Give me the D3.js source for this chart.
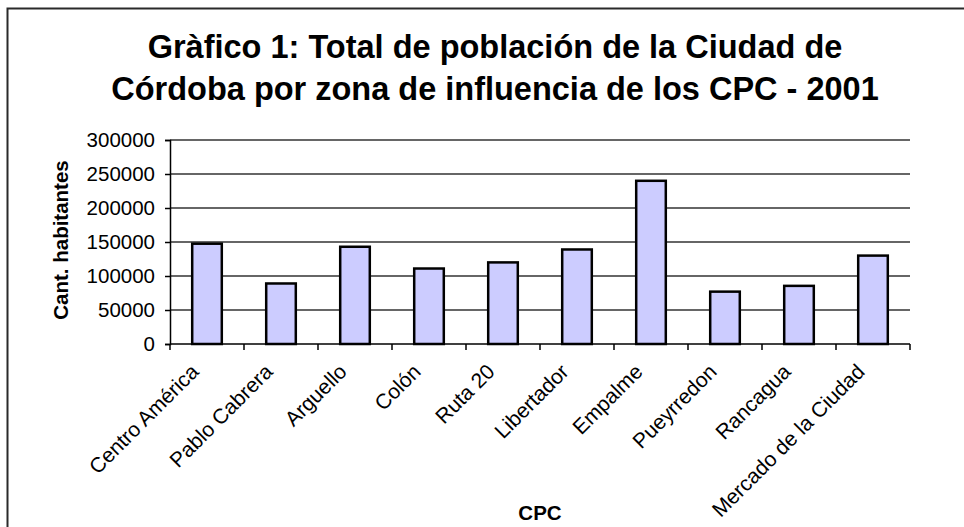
<!DOCTYPE html>
<html>
<head>
<meta charset="utf-8">
<script src="https://cdn.jsdelivr.net/npm/d3@7"></script>
<style>
  html, body { margin: 0; padding: 0; background: #fff; }
  svg { display: block; font-family: "Liberation Sans", Arial, sans-serif; }
</style>
</head>
<body>
<svg id="chart" width="964" height="527"></svg>
<script>
const titleLines = ["Gràfico 1: Total de población de la Ciudad de", "Córdoba por zona de influencia de los CPC - 2001"];
const categories = ["Centro América", "Pablo Cabrera", "Arguello", "Colón", "Ruta 20", "Libertador", "Empalme", "Pueyrredon", "Rancagua", "Mercado de la Ciudad"];
const population = [147500, 89000, 143000, 111000, 120000, 139000, 240000, 77000, 85500, 130000];
const yTicks = [0, 50000, 100000, 150000, 200000, 250000, 300000];
const yLabel = "Cant. habitantes";
const xLabel = "CPC";

const svg = d3.select("#chart");
const plot = { left: 170, right: 910, top: 140, bottom: 344 };

// outer frame (top and left visible)
svg.append("path")
  .attr("d", "M7.5,527 L7.5,8.5 L964,8.5")
  .attr("fill", "none").attr("stroke", "#2a2a2a").attr("stroke-width", 2);

// title
svg.append("g").selectAll("text").data(titleLines).join("text")
  .attr("x", 495).attr("y", (d, i) => 58 + i * 42)
  .attr("text-anchor", "middle")
  .attr("font-size", 32.5).attr("font-weight", "bold").attr("fill", "#000")
  .text(d => d);

const x = d3.scaleBand().domain(categories).range([plot.left, plot.right])
  .paddingInner(0.6).paddingOuter(0.3);
const y = d3.scaleLinear().domain([0, 300000]).range([plot.bottom, plot.top]);

// gridlines
svg.append("g").selectAll("line").data(yTicks.filter(v => v > 0)).join("line")
  .attr("x1", plot.left).attr("x2", plot.right)
  .attr("y1", d => y(d)).attr("y2", d => y(d))
  .attr("stroke", "#333").attr("stroke-width", 1.5);

// bars
svg.append("g").selectAll("rect").data(categories).join("rect")
  .attr("x", d => x(d)).attr("width", x.bandwidth())
  .attr("y", (d, i) => y(population[i]))
  .attr("height", (d, i) => y(0) - y(population[i]))
  .attr("fill", "#CCCCFF").attr("stroke", "#000").attr("stroke-width", 2.5);

// y axis
const yAxis = svg.append("g").attr("transform", `translate(${plot.left},0)`)
  .call(d3.axisLeft(y).tickValues(yTicks).tickFormat(d3.format("d")).tickSize(5).tickPadding(10));
yAxis.select(".domain").attr("stroke", "#000").attr("stroke-width", 1.5);
yAxis.selectAll(".tick line").attr("stroke", "#000").attr("stroke-width", 1.5);
yAxis.selectAll(".tick text").attr("font-size", 20.5).attr("fill", "#000")
  .attr("font-family", "Liberation Sans, Arial, sans-serif");

// x axis baseline and ticks at category boundaries
const boundaries = categories.map(c => x(c) - x.step() * x.paddingInner() / 2).concat([plot.right]);
const xg = svg.append("g");
xg.append("line").attr("x1", plot.left).attr("x2", plot.right)
  .attr("y1", y(0)).attr("y2", y(0)).attr("stroke", "#000").attr("stroke-width", 1.5);
xg.selectAll("line.tk").data(boundaries).join("line").attr("class", "tk")
  .attr("x1", d => d).attr("x2", d => d)
  .attr("y1", y(0)).attr("y2", y(0) + 6)
  .attr("stroke", "#000").attr("stroke-width", 1.5);

// x labels rotated
xg.selectAll("text").data(categories).join("text")
  .attr("transform", d => `translate(${x(d) + x.bandwidth() / 2 - 7},373) rotate(-45)`)
  .attr("text-anchor", "end")
  .attr("font-size", 21).attr("fill", "#000")
  .text(d => d);

// axis titles
svg.append("text")
  .attr("transform", `translate(68,240) rotate(-90)`)
  .attr("text-anchor", "middle")
  .attr("font-size", 20.5).attr("font-weight", "bold").attr("fill", "#000")
  .text(yLabel);

svg.append("text")
  .attr("x", (plot.left + plot.right) / 2).attr("y", 520)
  .attr("text-anchor", "middle")
  .attr("font-size", 20.5).attr("font-weight", "bold").attr("fill", "#000")
  .text(xLabel);
</script>
</body>
</html>
